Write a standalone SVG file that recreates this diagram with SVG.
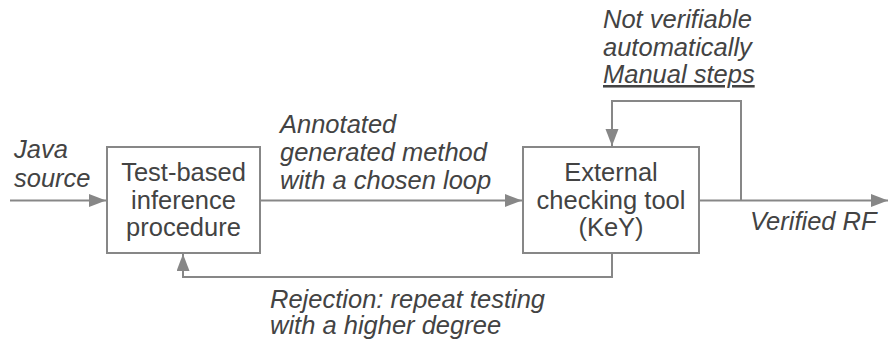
<svg xmlns="http://www.w3.org/2000/svg" width="889" height="343" viewBox="0 0 889 343">
<defs>
<marker id="ah" markerUnits="userSpaceOnUse" markerWidth="18" markerHeight="14" refX="17" refY="6.5" orient="auto">
<path d="M0,0 L17,6.5 L0,13 Z" fill="#878787"/>
</marker>
<style>
.box{fill:#fff;stroke:#878787;stroke-width:2}
.ln{fill:none;stroke:#878787;stroke-width:2}
.t{font-family:"Liberation Sans",Arial,sans-serif;font-size:25.5px;fill:#434343}
.c{text-anchor:middle}
.i{font-style:italic}
</style>
</defs>
<rect width="889" height="343" fill="#fff"/>
<g id="connectors">
<path class="ln" d="M10,200.5 H106" marker-end="url(#ah)"/>
<path class="ln" d="M261,200.5 H522" marker-end="url(#ah)"/>
<path class="ln" d="M700,200.5 H888" marker-end="url(#ah)"/>
<path class="ln" d="M741,200.5 V101 H612 V146" marker-end="url(#ah)"/>
<path class="ln" d="M612,254 V277 H183 V254" marker-end="url(#ah)"/>
</g>
<g id="labels">
<text class="t i" x="14" y="158">Java</text>
<text class="t i" x="14" y="187">source</text>
<text class="t i" x="280" y="133">Annotated</text>
<text class="t i" x="280" y="161">generated method</text>
<text class="t i" x="280" y="189">with a chosen loop</text>
<text class="t i" x="603" y="28">Not verifiable</text>
<text class="t i" x="603" y="56">automatically</text>
<text class="t i" x="603" y="83" text-decoration="underline">Manual steps</text>
<text class="t i" x="750" y="230">Verified RF</text>
<text class="t i" x="270" y="308">Rejection: repeat testing</text>
<text class="t i" x="270" y="334">with a higher degree</text>
</g>
<g id="node-inference">
<rect class="box" x="107" y="147" width="153" height="106"/>
<text class="t c" x="183.5" y="181">Test-based</text>
<text class="t c" x="183.5" y="209">inference</text>
<text class="t c" x="183.5" y="236">procedure</text>
</g>
<g id="node-key">
<rect class="box" x="523" y="147" width="176" height="106"/>
<text class="t c" x="611" y="181">External</text>
<text class="t c" x="611" y="209">checking tool</text>
<text class="t c" x="611" y="236">(KeY)</text>
</g>
</svg>
